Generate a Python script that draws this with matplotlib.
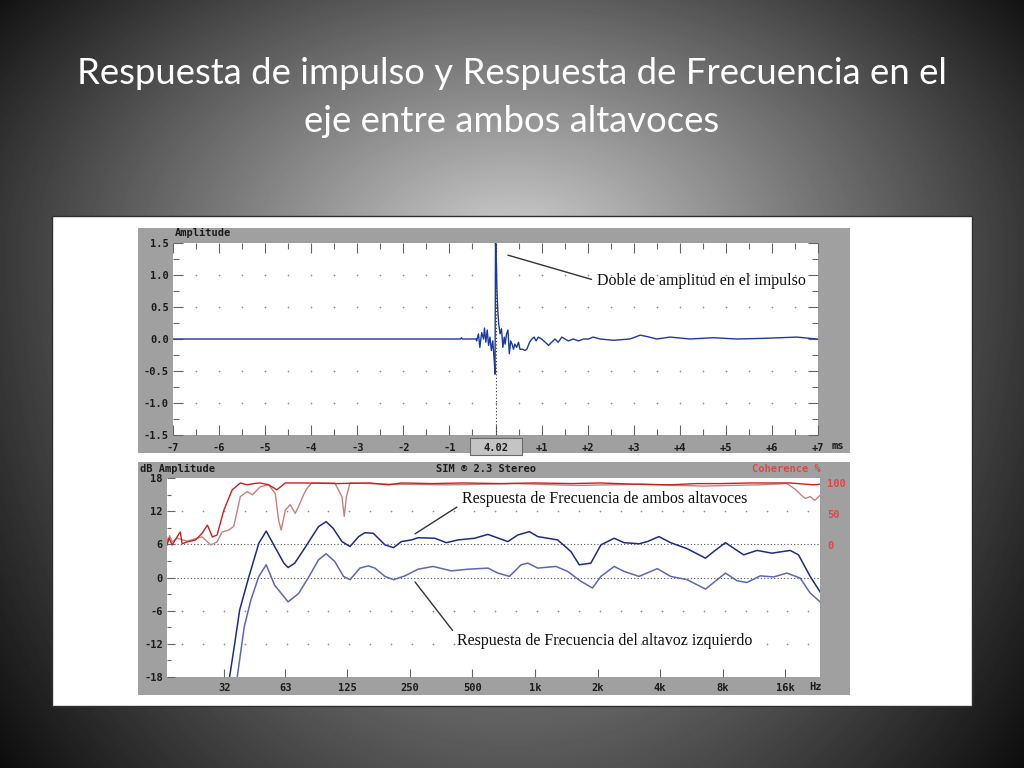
import numpy as np
import matplotlib
matplotlib.use("Agg")
import matplotlib.pyplot as plt
from matplotlib.patches import Rectangle
from matplotlib.ticker import NullFormatter

# ---------------- data ----------------
title_lines = ["Respuesta de impulso y Respuesta de Frecuencia en el",
               "eje entre ambos altavoces"]

# impulse response: time (ms) / amplitude
imp_t = [-7.0, -0.76, -0.74, -0.72, -0.42, -0.41, -0.37, -0.34, -0.30, -0.26,
         -0.24, -0.21, -0.18, -0.15, -0.12, -0.09, -0.06, -0.03, -0.01, 0.0,
         0.02, 0.03, 0.05, 0.07, 0.10, 0.13, 0.16, 0.19, 0.21, 0.24,
         0.27, 0.30, 0.33, 0.36, 0.39, 0.42, 0.46, 0.50, 0.53, 0.59,
         0.64, 0.68, 0.74, 0.79, 0.84, 0.88, 0.93, 1.00, 1.08, 1.15,
         1.22, 1.29, 1.36, 1.44, 1.51, 1.58, 1.69, 1.80, 1.91, 2.02,
         2.12, 2.27, 2.56, 2.92, 3.14, 3.28, 3.50, 3.79, 4.22, 4.73,
         5.24, 5.82, 6.54, 6.97, 7.0]
imp_amp = [0.0, 0.0, 0.02, 0.0, 0.0, -0.03, 0.08, -0.13, 0.10, 0.0,
           0.17, -0.05, 0.14, -0.10, 0.03, -0.18, -0.03, -0.31, -0.55, 1.50,
           1.17, 0.80, 0.44, 0.23, 0.08, 0.16, -0.13, 0.03, -0.08, 0.08,
           0.14, -0.23, -0.03, -0.08, -0.16, -0.08, -0.13, -0.05, -0.16, -0.16,
           -0.18, -0.16, -0.05, 0.0, 0.03, -0.03, 0.03, 0.0, -0.05, -0.10,
           -0.05, 0.0, -0.05, 0.03, 0.0, -0.03, 0.0, -0.03, 0.0, 0.0,
           0.03, 0.0, -0.02, 0.0, 0.06, 0.04, 0.0, 0.03, 0.0, 0.02,
           0.0, 0.01, 0.03, 0.0, 0.0]

time_ticks = [-7, -6, -5, -4, -3, -2, -1, 0, 1, 2, 3, 4, 5, 6, 7]
time_labels = ['-7', '-6', '-5', '-4', '-3', '-2', '-1', '4.02',
               '+1', '+2', '+3', '+4', '+5', '+6', '+7']
amp_ticks = [-1.5, -1.0, -0.5, 0.0, 0.5, 1.0, 1.5]
amp_labels = ['-1.5', '-1.0', '-0.5', '0.0', '0.5', '1.0', '1.5']

# frequency response, both speakers (Hz / dB)
both_f = [34, 36, 38, 42, 47, 51, 56, 62, 65, 70,
          79, 91, 99, 107, 118, 129, 142, 152, 167, 190,
          209, 228, 255, 274, 330, 375, 427, 513, 594, 741,
          828, 941, 1032, 1286, 1489, 1634, 1858, 2076, 2405, 2683,
          3167, 3475, 3948, 4494, 5404, 6612, 7245, 8245, 9035, 10090,
          11700, 13800, 16900, 18520, 21070, 23520]
both_db = [-18, -11.9, -5.9, 0.0, 6.2, 8.4, 5.6, 2.6, 1.8, 2.6,
           5.6, 9.2, 10.1, 8.9, 6.5, 5.6, 7.4, 8.1, 8.0, 5.9,
           5.4, 6.5, 6.8, 7.2, 7.1, 6.3, 6.8, 7.1, 7.8, 6.5,
           7.7, 8.3, 7.4, 6.8, 4.7, 2.3, 2.6, 5.9, 7.1, 6.3,
           6.1, 6.5, 7.4, 6.3, 5.2, 3.5, 4.7, 6.3, 5.3, 4.1,
           4.9, 4.4, 4.9, 4.1, 0.2, -2.6]

# frequency response, left speaker only
left_f = [37, 40, 43, 47, 51, 56, 65, 73, 82, 91,
          99, 109, 120, 129, 144, 158, 170, 190, 209, 237,
          274, 324, 396, 476, 594, 664, 754, 858, 925, 1032,
          1263, 1437, 1665, 1893, 2076, 2405, 2683, 3167, 3878, 4494,
          5404, 6612, 8245, 9382, 10470, 12130, 14050, 16290, 18860, 21070,
          23520]
left_db = [-18, -8.9, -4.1, 0.2, 2.3, -1.4, -4.4, -2.9, 0.2, 3.2,
           4.3, 2.9, 0.2, -0.4, 1.7, 2.1, 1.7, 0.2, -0.4, 0.3,
           1.5, 2.0, 1.2, 1.5, 1.7, 0.8, 0.2, 2.3, 2.6, 1.7,
           2.0, 1.1, -0.7, -1.9, 0.2, 2.0, 1.1, 0.2, 1.6, 0.2,
           -0.4, -2.1, 0.8, -0.6, -0.9, 0.3, 0.1, 0.8, -0.1, -2.8,
           -4.4]

# coherence (%) - bright trace
coh_a_f = [17.0, 17.4, 18.0, 19.0, 19.7, 20.1, 21.3, 23.3, 25.1, 26.6,
           28.1, 29.6, 31.9, 35.0, 38.3, 41.3, 44.5, 47.8, 52.4, 57.4,
           63, 78, 110, 160, 198, 228, 320, 450, 688, 1000,
           1500, 2076, 3000, 4494, 6000, 7800, 11000, 16900, 21800, 23520]
coh_a_pct = [0, 11, 0, 13, 21, 2, 5, 8, 19, 32,
             13, 16, 56, 89, 100, 97, 99, 100, 97, 89,
             100, 100, 99, 100, 97, 100, 99, 100, 99, 100,
             99, 100, 98, 97, 99, 99, 100, 100, 97, 98]

# coherence (%) - pale trace
coh_b_f = [16.8, 17.1, 17.5, 18.0, 19.0, 21.3, 23.7, 25.1, 27.6, 29.6,
           31.3, 33.7, 35.6, 38.3, 41.3, 43.8, 47.8, 52.4, 56.4, 58.5,
           60.2, 63, 66.5, 70.3, 73.0, 77.1, 80.0, 84.5, 109, 118,
           121, 124, 129, 200, 400, 800, 1600, 3200, 6400, 12000,
           16290, 17850, 18860, 19940, 21070, 22200, 23520]
coh_b_pct = [19, 5, 15, 5, 11, 6, 11, 13, 0, 5,
             21, 24, 30, 78, 86, 81, 94, 97, 83, 40,
             24, 56, 65, 51, 62, 81, 91, 100, 100, 78,
             46, 78, 100, 98, 97, 99, 96, 98, 95, 97,
             99, 90, 82, 75, 78, 72, 80]

freq_ticks = [32, 63, 125, 250, 500, 1000, 2000, 4000, 8000, 16000]
freq_labels = ['32', '63', '125', '250', '500', '1k', '2k', '4k', '8k', '16k']
db_ticks = [-18, -12, -6, 0, 6, 12, 18]
db_labels = ['-18', '-12', '-6', '0', '6', '12', '18']
coh_ticks = [0, 50, 100]

# ---------------- layout helpers (pixel -> figure fraction) ----------------
W, H = 1024, 768


def box(x0, y0, x1, y1):
    return [x0 / W, 1 - y1 / H, (x1 - x0) / W, (y1 - y0) / H]


def fig_rect(fig, x0, y0, x1, y1, z, **kw):
    r = Rectangle((x0 / W, 1 - y1 / H), (x1 - x0) / W, (y1 - y0) / H,
                  transform=fig.transFigure, zorder=z, **kw)
    fig.add_artist(r)
    return r


PIX = dict(family='DejaVu Sans Mono', weight='bold', size=7.5, color='#1c1c1c')
SERIF = dict(family='Liberation Serif', size=11.5, color='#111111')
BLUE_DARK = '#1c2d84'
BLUE_LIGHT = '#5b68b8'
RED = '#cc2020'
PINK = '#c98080'
GREY = '#a0a0a0'

fig = plt.figure(figsize=(W / 100, H / 100), dpi=100)

# slide background: radial grey gradient
bg = fig.add_axes([0, 0, 1, 1], zorder=-10)
yy, xx = np.mgrid[0:H, 0:W]
ry = np.where(yy < 250, 420.0, 800.0)
d = np.sqrt(((xx - 512) / 640.0) ** 2 + ((yy - 250) / ry) ** 2)
shade = np.clip(0.82 - 0.75 * d, 0.04, 1)
bg.imshow(shade, cmap='gray', vmin=0, vmax=1, aspect='auto')
bg.axis('off')

for i, line in enumerate(title_lines):
    fig.text(0.5, 1 - (74 + 47 * i) / H, line, ha='center', va='center',
             color='white', fontsize=26.3, family='Lato')

# white sheet and the two grey instrument panels
fig_rect(fig, 52, 216, 972, 706, -6, facecolor='white', edgecolor='#303030', lw=1)
fig_rect(fig, 138, 228, 850, 453, -5, facecolor=GREY, edgecolor='none')
fig_rect(fig, 138, 462, 850, 695, -5, facecolor=GREY, edgecolor='none')
fig_rect(fig, 470, 438, 522, 455, -4, facecolor='#c4c4c4', edgecolor='#6a6a6a', lw=0.8)

# ---------------- impulse response ----------------
ax1 = fig.add_axes(box(173, 243, 818, 435))
ax1.set_facecolor('white')
for s in ax1.spines.values():
    s.set_visible(False)
ax1.set_xlim(-7, 7)
ax1.set_ylim(-1.5, 1.5)
gx, gy = np.meshgrid(np.arange(-6.5, 7, 0.5), [-1.0, -0.5, 0.5, 1.0])
ax1.scatter(gx, gy, s=1.5, c='#8c8c8c', lw=0, zorder=1)
ax1.axvline(0, color='#303030', ls=(0, (1, 2)), lw=0.8, zorder=2)
ax1.plot(imp_t, imp_amp, color='#1e3a9a', lw=1.0, zorder=3)

ax1.set_xticks(time_ticks, time_labels, **PIX)
ax1.set_xticks(np.arange(-6.5, 7, 1), minor=True)
ax1.set_yticks(amp_ticks, amp_labels, **PIX)
ax1.set_yticks(np.arange(-1.25, 1.5, 0.5), minor=True)
ax1.tick_params(which='both', direction='in', top=True, right=True,
                color='#666666', width=0.8, pad=3)
ax1.tick_params(axis='x', which='both', pad=6)
ax1.tick_params(which='major', length=7)
ax1.tick_params(which='minor', length=4)

fig.text(175 / W, 1 - 233 / H, 'Amplitude', ha='left', va='center', **PIX)
fig.text(838 / W, 1 - 446 / H, 'ms', ha='center', va='center', **PIX)

ax1.annotate('Doble de amplitud en el impulso', xy=(0.27, 1.31),
             xytext=(597 / W, 1 - 281 / H), textcoords='figure fraction',
             ha='left', va='center',
             arrowprops=dict(arrowstyle='-', color='#333333', lw=1.0,
                             relpos=(0, 0.5), shrinkA=2, shrinkB=0),
             **SERIF)

# ---------------- frequency response ----------------
ax2 = fig.add_axes(box(167, 478, 820, 677))
ax2.set_facecolor('white')
for s in ax2.spines.values():
    s.set_visible(False)
ax2.set_xscale('log')
ax2.set_xlim(17, 23500)
ax2.set_ylim(-18, 18)
third_oct = 32 * 2.0 ** (np.arange(-2, 30) / 3.0)
third_oct = third_oct[(third_oct > 17.5) & (third_oct < 23000)]
gx, gy = np.meshgrid(third_oct, [12, -6, -12])
ax2.scatter(gx, gy, s=1.5, c='#8c8c8c', lw=0, zorder=1)
ax2.axhline(0, color='#555555', ls=(0, (1, 2)), lw=0.8, zorder=1)
ax2.axhline(6, color='#555555', ls=(0, (1, 2)), lw=0.8, zorder=1)
ax2.plot(left_f, left_db, color=BLUE_LIGHT, lw=1.1, zorder=3)
ax2.plot(both_f, both_db, color=BLUE_DARK, lw=1.1, zorder=3)

ax2.set_xticks(freq_ticks, freq_labels, **PIX)
ax2.set_xticks(third_oct, minor=True)
ax2.xaxis.set_minor_formatter(NullFormatter())
ax2.set_yticks(db_ticks, db_labels, **PIX)
ax2.set_yticks(np.arange(-15, 18, 6), minor=True)
ax2.tick_params(which='both', direction='in', right=True,
                color='#666666', width=0.8, pad=3)
ax2.tick_params(axis='x', which='both', pad=4)
ax2.tick_params(which='major', length=6)
ax2.tick_params(which='minor', length=3)
ax2.tick_params(axis='x', which='minor', length=0)

# coherence on its own right-hand scale
ax3 = ax2.twinx()
for s in ax3.spines.values():
    s.set_visible(False)
ax3.set_ylim(-213, 108)
ax3.plot(coh_b_f, coh_b_pct, color=PINK, lw=1.0, zorder=2)
ax3.plot(coh_a_f, coh_a_pct, color=RED, lw=1.0, zorder=3)
ax3.set_yticks(coh_ticks, [str(v) for v in coh_ticks],
               **{**PIX, 'color': '#d84a4a'})
ax3.tick_params(axis='y', length=0, pad=5)

fig.text(140 / W, 1 - 469 / H, 'dB Amplitude', ha='left', va='center', **PIX)
fig.text(436 / W, 1 - 469 / H, 'SIM \u00ae 2.3 Stereo', ha='left', va='center', **PIX)
fig.text(752 / W, 1 - 469 / H, 'Coherence %', ha='left', va='center',
         **{**PIX, 'color': '#d84a4a'})
fig.text(816 / W, 1 - 686.5 / H, 'Hz', ha='center', va='center', **PIX)

ax2.annotate('Respuesta de Frecuencia de ambos altavoces', xy=(265, 7.9),
             xytext=(462 / W, 1 - 499 / H), textcoords='figure fraction',
             ha='left', va='center',
             arrowprops=dict(arrowstyle='-', color='#333333', lw=1.0,
                             relpos=(0, 0.2), shrinkA=2, shrinkB=0),
             **SERIF)
ax2.annotate('Respuesta de Frecuencia del altavoz izquierdo', xy=(265, -0.8),
             xytext=(457 / W, 1 - 641 / H), textcoords='figure fraction',
             ha='left', va='center',
             arrowprops=dict(arrowstyle='-', color='#333333', lw=1.0,
                             relpos=(0, 0.8), shrinkA=2, shrinkB=0),
             **SERIF)

fig.savefig('out.png', dpi=100)
